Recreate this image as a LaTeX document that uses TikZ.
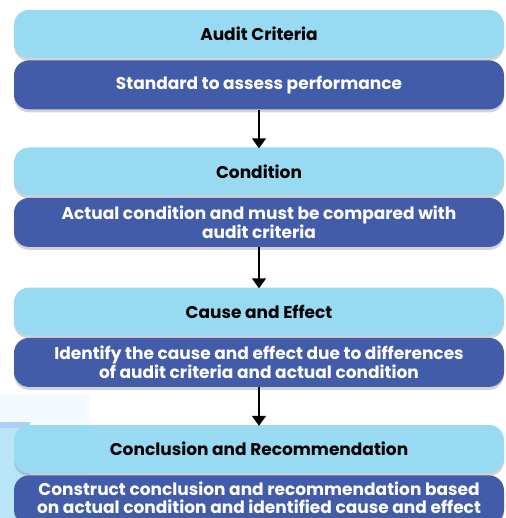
\documentclass[tikz,border=0pt]{standalone}
\usepackage{fontspec}
\setmainfont{Poppins}
\usetikzlibrary{positioning, shadows, arrows.meta}
\definecolor{headblue}{HTML}{97DAF2}
\definecolor{bodyblue}{HTML}{435CAA}
\definecolor{paleblue}{HTML}{F2FAFD}
\definecolor{stripblue}{HTML}{B8E5F8}
\tikzset{
    stage/.style={rounded corners=15pt, minimum width=490pt, minimum height=48pt,
        inner sep=0pt, align=center, font=\bfseries\fontsize{17}{18}\selectfont,
        drop shadow={shadow xshift=0pt, shadow yshift=-3pt, opacity=.35}},
    headbox/.style={stage, fill=headblue, text=black},
    bodybox/.style={stage, fill=bodyblue, text=white, minimum height=49pt},
    plainbody/.style={},
    lastbody/.style={text depth=5pt},
    flow/.style={-{Triangle[width=14pt,length=10pt]}, line width=1.6pt, shorten >=-1pt}
}

\begin{document}
\begin{tikzpicture}[x=1pt, y=-1pt]
    \useasboundingbox (0,0) rectangle (505,518);
    % faint background at the lower left
    \fill[paleblue] (0,395) rectangle (90,518);
    \fill[stripblue] (0,422) rectangle (30,518);
    \fill[headblue!80!blue!60] (0,422) rectangle (30,428);

\foreach \n/\y/\s/\head/\body in {
    crit/34/plainbody/Audit Criteria/Standard to assess performance,
    cond/171.5/plainbody/Condition/{Actual condition and must be compared with\\audit criteria},
    cause/311.5/plainbody/Cause and Effect/{Identify the cause and effect due to differences\\of audit criteria and actual condition},
    concl/449/lastbody/Conclusion and Recommendation/{Construct conclusion and recommendation based\\on actual condition and identified cause and effect}}
{
    \node[headbox] (\n-h) at (259,\y) {\head};
    \node[bodybox, \s, below=2pt of \n-h] (\n-b) {\body};
}

    \draw[flow] (crit-b) -- (cond-h);
    \draw[flow] (cond-b) -- (cause-h);
    \draw[flow] (cause-b) -- (concl-h);

\end{tikzpicture}
\end{document}
